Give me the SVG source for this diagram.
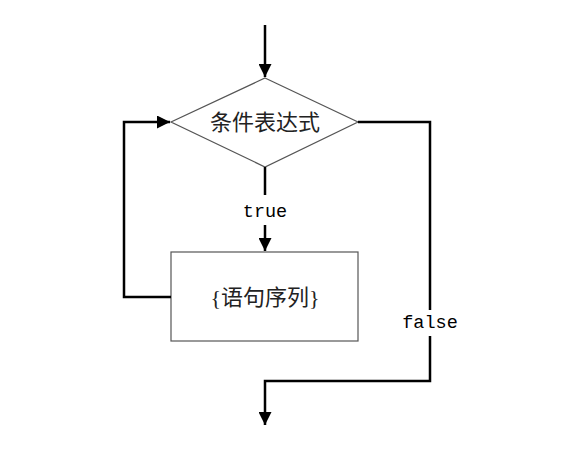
<svg xmlns="http://www.w3.org/2000/svg" width="580" height="465" viewBox="0 0 580 465">
<style>
.shape{fill:#fff;stroke:#555;stroke-width:1.2}
.conn{fill:none;stroke:#000;stroke-width:2.5}
.cjk{font-family:"Liberation Serif","Noto Sans CJK SC",serif;font-size:22px;fill:#222}
.mono{font-family:"Liberation Mono",monospace;font-size:18.5px;fill:#000}
</style>
<defs>
<marker id="arr" viewBox="0 0 10 10" refX="10" refY="5" markerWidth="5.2" markerHeight="5.2" markerUnits="strokeWidth" orient="auto">
<path d="M0,0 L10,5 L0,10 Z" fill="#000"/>
</marker>
</defs>
<rect width="580" height="465" fill="#fff"/>
<g id="cond">
<polygon class="shape" points="265,78 358,122 265,167 171,122"/>
<text class="cjk" x="265" y="130" text-anchor="middle">条件表达式</text>
</g>
<g id="body">
<rect class="shape" x="171" y="252" width="187" height="89"/>
<text class="cjk" x="265" y="305" text-anchor="middle">{语句序列}</text>
</g>
<g id="connectors">
<path class="conn" d="M265,25 V77" marker-end="url(#arr)"/>
<path class="conn" d="M265,167 V195"/>
<path class="conn" d="M265,225 V251" marker-end="url(#arr)"/>
<path class="conn" d="M171,297 H124 V122 H170" marker-end="url(#arr)"/>
<path class="conn" d="M358,122 H430 V310"/>
<path class="conn" d="M430,336 V381 H265 V425" marker-end="url(#arr)"/>
<text class="mono" x="265" y="217" text-anchor="middle">true</text>
<text class="mono" x="430" y="328" text-anchor="middle">false</text>
</g>
</svg>
